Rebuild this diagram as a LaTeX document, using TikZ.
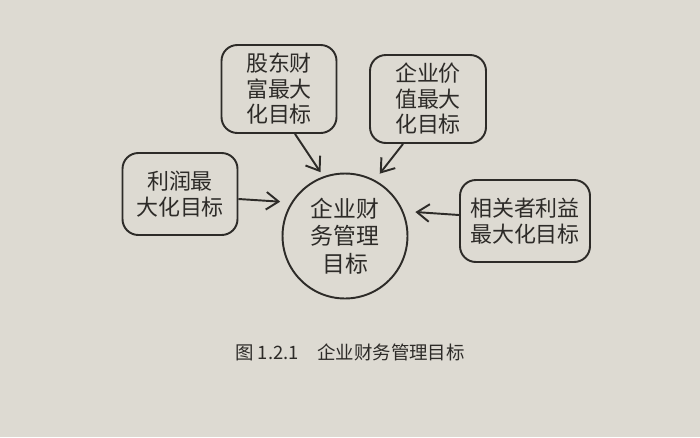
\documentclass[tikz,border=0pt]{standalone}
\usepackage{fontspec}
\setmainfont{Noto Sans CJK SC}
\usetikzlibrary{arrows.meta}
\definecolor{paper}{RGB}{221,218,210}
\definecolor{ink}{RGB}{45,43,40}
\tikzset{
  goalbox/.style={draw=ink, line width=1.1pt, rounded corners=9pt, fill=paper,
    align=center, text=ink, font=\fontsize{12.5}{14.5}\selectfont, inner sep=2pt},
  centre/.style={draw=ink, line width=1.1pt, circle, minimum size=2.5cm, fill=paper,
    align=center, text=ink, font=\fontsize{13}{15.5}\selectfont, inner sep=0pt},
  feed/.style={draw=ink, line width=1.1pt, -{Straight Barb[length=7pt,width=10pt]}},
  captionstyle/.style={text=ink, font=\fontsize{10.5}{12}\selectfont}
}
\begin{document}
\begin{tikzpicture}[x=0.02cm,y=-0.02cm]
\fill[paper] (0,0) rectangle (700,437);
\useasboundingbox (0,0) rectangle (700,437);
\node[goalbox, minimum width=2.3cm, minimum height=1.76cm] (shareholder) at (279,89) {股东财\\富最大\\化目标};
\node[goalbox, minimum width=2.32cm, minimum height=1.76cm] (value) at (428,99) {企业价\\值最大\\化目标};
\node[goalbox, minimum width=2.3cm, minimum height=1.64cm] (profit) at (180,194) {利润最\\大化目标};
\node[goalbox, minimum width=2.6cm, minimum height=1.64cm] (stake) at (525,221) {相关者利益\\最大化目标};
\node[centre] (goal) at (345,236) {企业财\\务管理\\目标};
\draw[feed, shorten >=0.1cm] (shareholder.south) ++(16,0) coordinate (s1) -- (goal.110);
\draw[feed, shorten >=0.16cm] (value.south) ++(-25,0) coordinate (s2) -- (goal.62);
\draw[feed, shorten >=0.22cm] (profit.east) ++(0,5) coordinate (s3) -- (goal.148);
\draw[feed, shorten >=0.24cm] (stake.west) ++(0,-6) coordinate (s4) -- (goal.23);
\node[captionstyle, anchor=west] (cap) at (229,352) {图 1.2.1\hspace{1em}企业财务管理目标};
\end{tikzpicture}
\end{document}
